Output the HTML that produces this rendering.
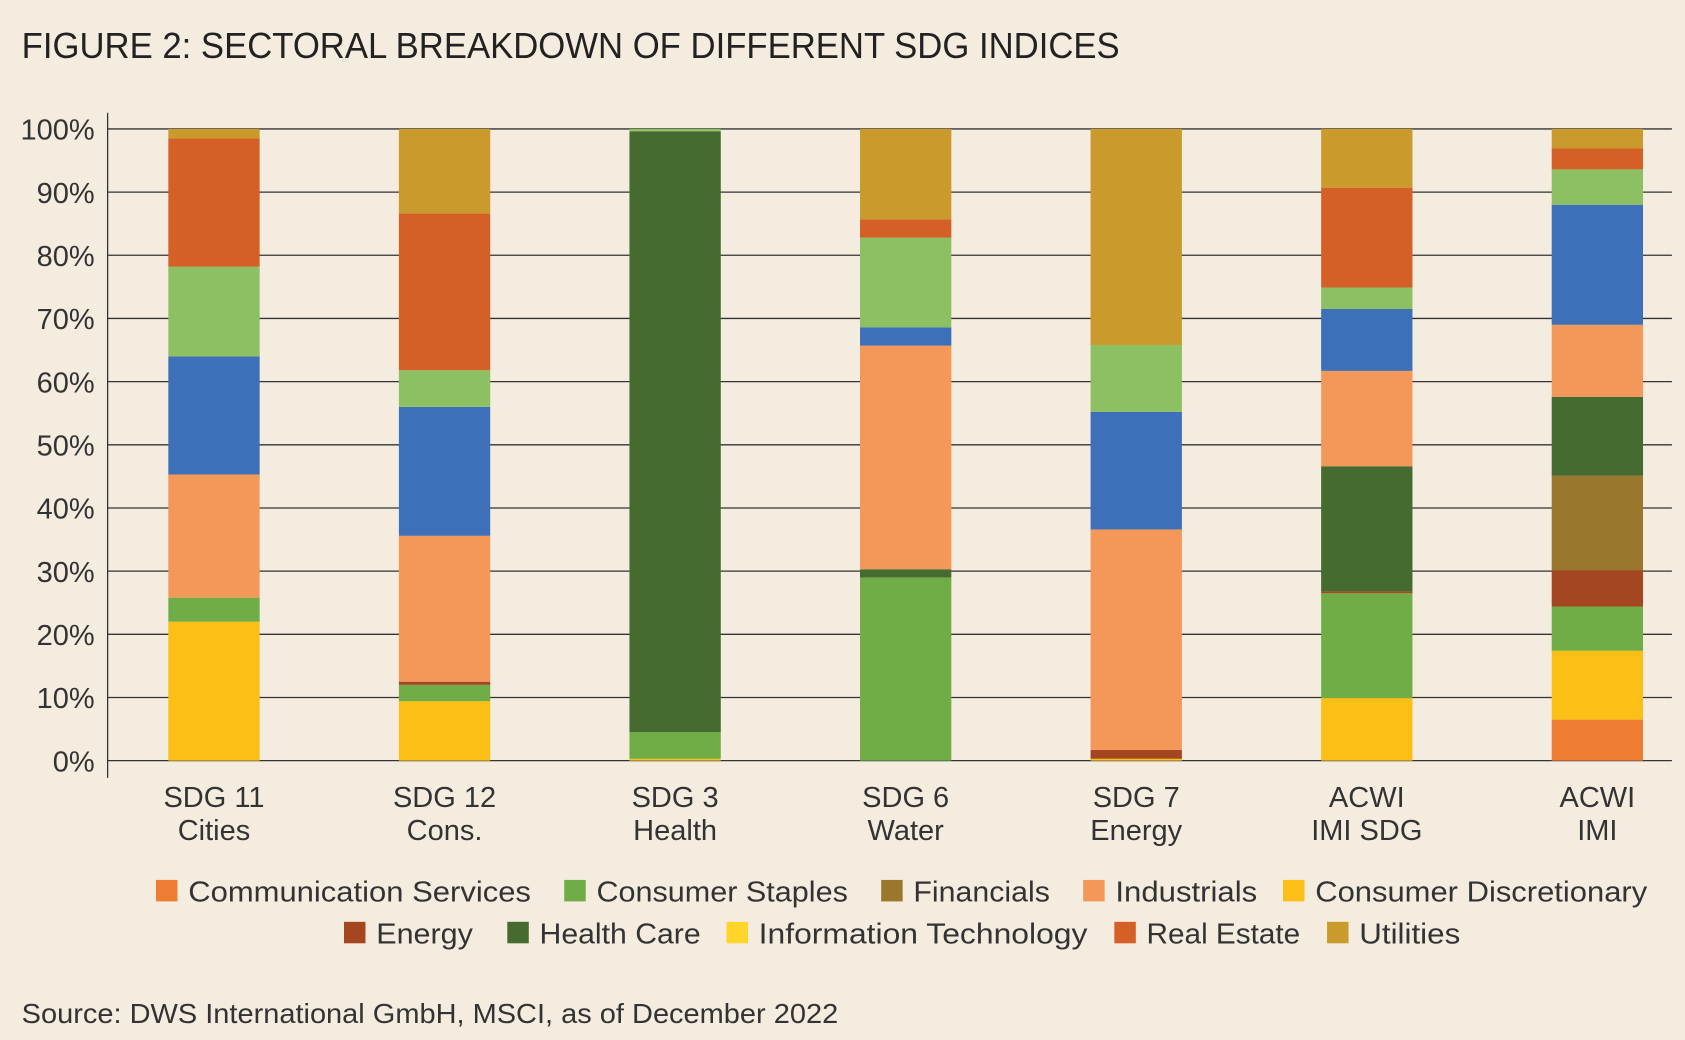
<!DOCTYPE html>
<html><head><meta charset="utf-8"><style>
html,body{margin:0;padding:0;background:#F4ECDF;}
svg{display:block;font-family:"Liberation Sans",sans-serif;}
</style></head><body>
<svg id="chart" width="1685" height="1040" viewBox="0 0 1568 968" xmlns="http://www.w3.org/2000/svg">
<rect width="1568" height="968" fill="#F4ECDF"/>
<text x="20" y="54" font-size="34" fill="#222" textLength="1022" lengthAdjust="spacingAndGlyphs">FIGURE 2: SECTORAL BREAKDOWN OF DIFFERENT SDG INDICES</text>
<g id="grid"></g><g id="bars"></g><g id="axes"></g><g id="legend"></g>
<text x="20" y="952" font-size="26" fill="#333" textLength="760" lengthAdjust="spacingAndGlyphs">Source: DWS International GmbH, MSCI, as of December 2022</text>
</svg>
<script>
const categories = [["SDG 11","Cities"],["SDG 12","Cons."],["SDG 3","Health"],["SDG 6","Water"],["SDG 7","Energy"],["ACWI","IMI SDG"],["ACWI","IMI"]];
const seriesNames = ["Communication Services","Consumer Discretionary","Consumer Staples","Energy","Financials","Health Care","Industrials","Information Technology","Materials","Real Estate","Utilities"];
const seriesColors = ["#EE7D31","#FBBF15","#70AD47","#A4461F","#9A772C","#456B31","#F4985A","#3D70B8","#8CC063","#D56027","#CA9B2C"];
const commServices = [0,0,0,0,0,0,6.5];
const consDisc =     [22,9.4,0.3,0,0.3,9.9,10.9];
const consStaples =  [3.8,2.6,4.2,29,0,16.6,7];
const energy =       [0,0.5,0,0,1.4,0.3,5.7];
const financials =   [0,0,0,0,0,0,15];
const healthCare =   [0,0,95.1,1.3,0,19.8,12.5];
const industrials =  [19.5,23.1,0,35.4,34.9,15.1,11.4];
const infoTech =     [18.7,20.4,0,2.9,18.6,9.8,19];
const materials =    [14.2,5.8,0.4,14.2,10.6,3.4,5.6];
const realEstate =   [20.3,24.8,0,2.9,0,15.8,3.3];
const utilities =    [1.5,13.4,0,14.3,34.2,9.3,3.1];
const seriesValues = [commServices,consDisc,consStaples,energy,financials,healthCare,industrials,infoTech,materials,realEstate,utilities];
const yTicks = [0,10,20,30,40,50,60,70,80,90,100];
const legendRow1 = ["Communication Services","Consumer Staples","Financials","Industrials","Consumer Discretionary"];
const legendRow1Colors = ["#EE7D31","#70AD47","#9A772C","#F4985A","#FBBF15"];
const legendRow2 = ["Energy","Health Care","Information Technology","Real Estate","Utilities"];
const legendRow2Colors = ["#A4461F","#456B31","#FFD52A","#D56027","#CA9B2C"];

const NS="http://www.w3.org/2000/svg";
const y0=708, y100=120, xL=100, xR=1556, barW=85;
const yScale=v=>y0-(y0-y100)*v/100;
const xScale=i=>199+i*214.6;
function mk(tag,attrs,parent){const e=document.createElementNS(NS,tag);for(const k in attrs)e.setAttribute(k,attrs[k]);parent.appendChild(e);return e;}
const grid=document.getElementById('grid'),bars=document.getElementById('bars'),axes=document.getElementById('axes'),legend=document.getElementById('legend');
yTicks.forEach(t=>{
  const l=mk('line',{x1:xL,x2:xR,y1:yScale(t),y2:yScale(t),stroke:'#333','stroke-width':1.2},grid);
  
  
  const tx=mk('text',{x:88,y:yScale(t)+10,'font-size':27,'text-anchor':'end',fill:'#333'},axes);
  tx.textContent=t+'%';
  
  
});
const ax=mk('line',{x1:xL,x2:xL,y1:105,y2:724,stroke:'#333','stroke-width':1.2},axes);


categories.forEach((c,i)=>{
  let acc=0;
  seriesValues.forEach((s,k)=>{
    const v=s[i]; if(v<=0)return;
    const r=mk('rect',{x:xScale(i)-barW/2,y:yScale(acc+v),width:barW,height:yScale(acc)-yScale(acc+v),fill:seriesColors[k]},bars);
    
    
    acc+=v;
  });
  c.forEach((ln,j)=>{
    const t=mk('text',{x:xScale(i),y:751+j*31,'font-size':27,'text-anchor':'middle',fill:'#333'},axes);
    t.textContent=ln;
    
    
  });
});
function legRow(names,colors,xs,ws,y){
  names.forEach((n,i)=>{
    const r=mk('rect',{x:xs[i],y:y-10,width:20,height:20,fill:colors[i]},legend);
    
    
    const t=mk('text',{x:xs[i]+30,y:y+10,'font-size':27,fill:'#333',textLength:ws[i],lengthAdjust:'spacingAndGlyphs'},legend);
    t.textContent=n;
    
    
  });
}
legRow(legendRow1,legendRow1Colors,[145,525,820,1008,1194],[319,234,127,132,309],829);
legRow(legendRow2,legendRow2Colors,[320,472,676,1037,1235],[90,150,306,143,94],868);
</script>
</body></html>
